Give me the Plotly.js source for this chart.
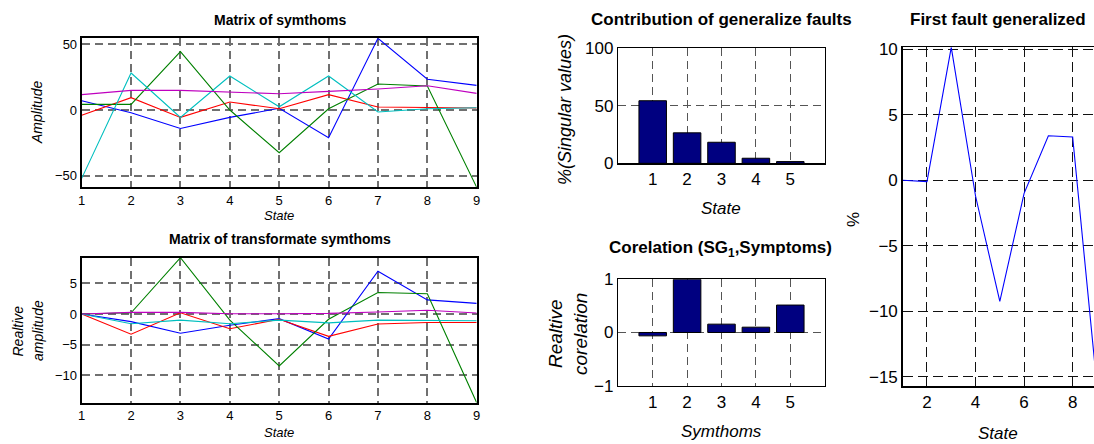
<!DOCTYPE html>
<html><head><meta charset="utf-8">
<script src="https://cdn.plot.ly/plotly-3.0.1.min.js"></script>
<style>html,body{margin:0;padding:0;background:#fff}#chart{width:1094px;height:444px}</style>
</head><body><div id="chart"></div>
<script>
// ---- data ----
const states = [1,2,3,4,5,6,7,8,9];
// Matrix of symthoms
const symBlue    = [7, -2, -14, -5.6, 1.3, -21, 54.6, 23.4, 18.8];
const symRed     = [-4, 9.4, -5.6, 6.1, 1, 11.7, 2.3, 1.8, 1.5];
const symGreen   = [4.3, 4.3, 44.4, 0, -32.5, 1, 19.8, 18.3, -58.8];
const symCyan    = [-52, 28.2, -5.6, 25.9, 2.5, 25.9, -1.5, 1, 1.8];
const symMagenta = [11.7, 15, 15, 13.5, 12.4, 14.2, 16, 18.5, 12.7];
// Matrix of transformate symthoms
const trBlue    = [0, -1.25, -3.15, -1.85, -0.76, -4.1, 7.0, 2.3, 1.74];
const trRed     = [0, -3.3, 0.2, -2.4, -0.87, -3.65, -1.63, -1.4, -1.4];
const trGreen   = [0, 0.2, 9.2, -1, -8.5, -0.87, 3.5, 3.3, -14.5];
const trCyan    = [0, -1.6, -1.0, -1.6, -1.0, -1.45, -1.0, -1.1, -1.1];
const trMagenta = [0, 0.27, 0.27, 0.05, 0.05, 0.1, 0.33, 0.6, 0.16];
// Contribution of generalize faults
const faultIdx = [1,2,3,4,5];
const contribution = [54.4, 26.5, 18.3, 4.4, 1.5];
// Corelation (SG1, Symptoms)
const symptomIdx = [1,2,3,4,5];
const corelation = [-0.063, 1.0, 0.157, 0.1, 0.516];
// First fault generalized
const firstFault = [0.0, -0.1, 10.15, -1.2, -9.25, -1.0, 3.4, 3.3, -15.7];

// ---- styling helpers ----
const W = 1094, H = 444;
const px = v => v / W;
const py = v => 1 - v / H;
const fL = 'Liberation Sans, Arial, sans-serif';

function ax(dom, range, extra, tsize, lw, gc, gw, dash) {
  return Object.assign({
    domain: dom, range: range, autorange: false,
    showline: true, mirror: true, linecolor: '#000', linewidth: lw,
    showgrid: true, gridcolor: gc, gridwidth: gw, griddash: dash,
    zeroline: false, ticks: '', tickfont: {family: fL, size: tsize, color: '#000'},
    fixedrange: true
  }, extra);
}

const lineColors = {blue:'#0000ff', red:'#ff0000', green:'#008000', cyan:'#00bfbf', magenta:'#bf00bf'};
const traces = [];
function addLines(xa, ya, sets) {
  sets.forEach(([y, c]) => traces.push({
    type: 'scatter', mode: 'lines', x: states, y: y, xaxis: xa, yaxis: ya,
    line: {color: c, width: 1.1}, hoverinfo: 'skip', showlegend: false
  }));
}
addLines('x', 'y', [[symBlue, lineColors.blue],[symRed, lineColors.red],[symGreen, lineColors.green],[symCyan, lineColors.cyan],[symMagenta, lineColors.magenta]]);
addLines('x2', 'y2', [[trBlue, lineColors.blue],[trRed, lineColors.red],[trGreen, lineColors.green],[trCyan, lineColors.cyan],[trMagenta, lineColors.magenta]]);
traces.push({type:'bar', x: faultIdx, y: contribution, xaxis:'x3', yaxis:'y3', width:0.8,
  marker:{color:'#000080', line:{color:'#000', width:1}}, showlegend:false, hoverinfo:'skip'});
traces.push({type:'bar', x: symptomIdx, y: corelation, xaxis:'x4', yaxis:'y4', width:0.8,
  marker:{color:'#000080', line:{color:'#000', width:1}}, showlegend:false, hoverinfo:'skip'});
traces.push({type:'scatter', mode:'lines', x: states, y: firstFault, xaxis:'x5', yaxis:'y5',
  line:{color:'#0000ff', width:1.1}, showlegend:false, hoverinfo:'skip'});

const gL = '#707070', gM = '#555', gR = '#111';
const dL = '8px,5px', dR = '10px,5px';
const layout = {
  width: W, height: H, margin: {l:0, r:0, t:0, b:0},
  paper_bgcolor: '#fff', plot_bgcolor: '#fff', showlegend: false, bargap: 0,
  xaxis:  ax([px(81.7), px(476.7)], [1, 9], {anchor:'y', tickvals: states}, 13, 2, gL, 2, dL),
  yaxis:  ax([py(187.3), py(38.3)], [-58.8, 54.6], {anchor:'x', tickvals:[-50,0,50]}, 13, 2, gL, 2, dL),
  xaxis2: ax([px(81.7), px(476.7)], [1, 9], {anchor:'y2', tickvals: states}, 13, 2, gL, 2, dL),
  yaxis2: ax([py(402.7), py(257.7)], [-14.5, 9.2], {anchor:'x2', tickvals:[-10,-5,0,5]}, 13, 2, gL, 2, dL),
  xaxis3: ax([px(618.3), px(824.7)], [0, 6], {anchor:'y3', tickvals: faultIdx}, 17, 1.5, gM, 1, dL),
  yaxis3: ax([py(163.3), py(48.3)], [0, 100], {anchor:'x3', tickvals:[0,50,100]}, 17, 1.5, gM, 1, dL),
  xaxis4: ax([px(618.3), px(824.7)], [0, 6], {anchor:'y4', tickvals: symptomIdx}, 17, 1.5, gM, 1, dL),
  yaxis4: ax([py(385.7), py(279.3)], [-1, 1], {anchor:'x4', tickvals:[-1,0,1]}, 17, 1.5, gM, 1, dL),
  xaxis5: ax([px(902.7), 1], [1, 1 + (W - 902.7) / 24.28], {anchor:'y5', tickvals:[2,4,6,8]}, 17, 1.5, gR, 1, dR),
  yaxis5: ax([py(386), py(47.3)], [-15.7, 10.15], {anchor:'x5', tickvals:[-15,-10,-5,0,5,10]}, 17, 1.5, gR, 1, dR),
  annotations: []
};

function ann(text, x, y, size, angle) {
  layout.annotations.push({text: text, x: px(x), y: py(y), xref:'paper', yref:'paper',
    xanchor:'center', yanchor:'middle', showarrow:false, textangle: angle || 0,
    font:{family: fL, size: size, color:'#000'}});
}
ann('<b>Matrix of symthoms</b>', 279.5, 20, 14);
ann('<b>Matrix of transformate symthoms</b>', 279.5, 239, 14);
ann('<i>State</i>', 278.5, 215, 13);
ann('<i>State</i>', 278.5, 432, 13);
ann('<i>Amplitude</i>', 37, 113, 14, -90);
ann('<i>Realtive</i>', 17.5, 331, 14, -90);
ann('<i>amplitude</i>', 38, 331, 14, -90);

ann('<b>Contribution of generalize faults</b>', 721, 20, 17);
ann('<b>Corelation (SG<sub>1</sub>,Symptoms)</b>', 720, 249, 17);
ann('<i>State</i>', 721, 209, 17);
ann('<i>%(Singular values)</i>', 565, 110, 18, -90);
ann('<i>Symthoms</i>', 721, 431, 17);
ann('<i>Realtive</i>', 555, 334, 19, -90);
ann('<i>corelation</i>', 580, 334, 19, -90);

ann('<b>First fault generalized</b>', 998, 20, 17);
ann('%', 853, 220, 17, -90);
ann('<i>State</i>', 998, 433, 17);

Plotly.newPlot('chart', traces, layout, {staticPlot: true, displayModeBar: false});
</script>
</body></html>
